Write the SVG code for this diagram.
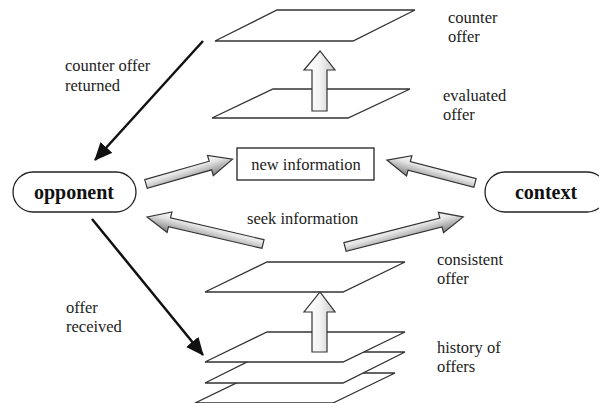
<svg xmlns="http://www.w3.org/2000/svg" width="599" height="403" viewBox="0 0 599 403">
<style>
.plane{fill:#fff;stroke:#333;stroke-width:1.3}
.node{fill:#fff;stroke:#222;stroke-width:1.3}
.lbl{font-family:"Liberation Serif","Times New Roman",serif;font-size:16.5px;fill:#222}
.bold{font-family:"Liberation Serif","Times New Roman",serif;font-size:20px;font-weight:bold;fill:#111}
.thin{stroke:#111;stroke-width:2.5;fill:none;marker-end:url(#ah)}
.blk{fill:url(#gH);stroke:#333;stroke-width:1.2;stroke-linejoin:miter}
.blkv{fill:url(#gV);stroke:#333;stroke-width:1.2}
</style>
<defs>
<marker id="ah" markerUnits="userSpaceOnUse" markerWidth="20" markerHeight="18" refX="17" refY="8" orient="auto">
<path d="M0,0 L18,8 L0,16 Z" fill="#111"/>
</marker>
<linearGradient id="gH" x1="0" y1="0" x2="0.15" y2="1">
<stop offset="0" stop-color="#ffffff"/>
<stop offset="0.45" stop-color="#e6e6e6"/>
<stop offset="1" stop-color="#8c8c8c"/>
</linearGradient>
<linearGradient id="gV" x1="0" y1="0" x2="1" y2="0">
<stop offset="0" stop-color="#ffffff"/>
<stop offset="0.5" stop-color="#f4f4f4"/>
<stop offset="1" stop-color="#c8c8c8"/>
</linearGradient>
</defs>

<g id="plane-counter-offer"><polygon class="plane" points="277,10 415,10 353,41 215,41"/></g>
<g id="plane-evaluated-offer"><polygon class="plane" points="273,89 410,89 348,118 212,118"/></g>
<g id="plane-consistent-offer"><polygon class="plane" points="267,262 405,262 343,292 205,292"/></g>
<g id="history-of-offers">
<polygon class="plane" points="257,373 395,373 333,403 195,403"/>
<polygon class="plane" points="267,352 405,352 343,383 205,383"/>
<polygon class="plane" points="267,332 405,332 343,362 205,362"/>
</g>

<g id="opponent">
<rect class="node" x="13" y="172" width="123" height="40" rx="20" ry="20"/>
<text class="bold" x="74" y="198.5" text-anchor="middle">opponent</text>
</g>
<g id="context">
<rect class="node" x="485" y="172" width="122" height="40" rx="20" ry="20"/>
<text class="bold" x="546" y="198.5" text-anchor="middle">context</text>
</g>
<g id="new-information">
<rect class="node" x="237" y="148" width="137" height="32"/>
<text class="lbl" x="306" y="169.5" text-anchor="middle">new information</text>
</g>

<g id="connectors">
<line class="thin" x1="203" y1="41" x2="95" y2="160"/>
<line class="thin" x1="92" y1="219" x2="203" y2="355"/>
<polygon class="blkv" points="312,111 312,70 304,70 320,51 335,70 327,70 327,111"/>
<polygon class="blkv" points="312,352 312,312 304,312 320,292 335,312 327,312 327,352"/>
<g transform="translate(146,184) rotate(-16)"><polygon class="blk" points="0,-4.5 67,-4.5 67,-10.5 90,0 67,10.5 67,4.5 0,4.5"/></g>
<g transform="translate(475,183) rotate(194.6) scale(1,-1)"><polygon class="blk" points="0,-4.5 68,-4.5 68,-10.5 91,0 68,10.5 68,4.5 0,4.5"/></g>
<g transform="translate(263,244) rotate(193.1) scale(1,-1)"><polygon class="blk" points="0,-4.5 96,-4.5 96,-10.5 119,0 96,10.5 96,4.5 0,4.5"/></g>
<g transform="translate(345,247) rotate(-14.3)"><polygon class="blk" points="0,-4.5 99,-4.5 99,-10.5 122,0 99,10.5 99,4.5 0,4.5"/></g>
</g>

<g id="labels">
<text class="lbl" x="65" y="71">counter offer</text>
<text class="lbl" x="65" y="90.5">returned</text>
<text class="lbl" x="66" y="312.5">offer</text>
<text class="lbl" x="66" y="331.5">received</text>
<text class="lbl" x="247" y="224">seek information</text>
<text class="lbl" x="448" y="22.5">counter</text>
<text class="lbl" x="448" y="41.5">offer</text>
<text class="lbl" x="443" y="101">evaluated</text>
<text class="lbl" x="443" y="120">offer</text>
<text class="lbl" x="437" y="265">consistent</text>
<text class="lbl" x="437" y="284">offer</text>
<text class="lbl" x="437" y="353">history of</text>
<text class="lbl" x="437" y="372">offers</text>
</g>
</svg>
